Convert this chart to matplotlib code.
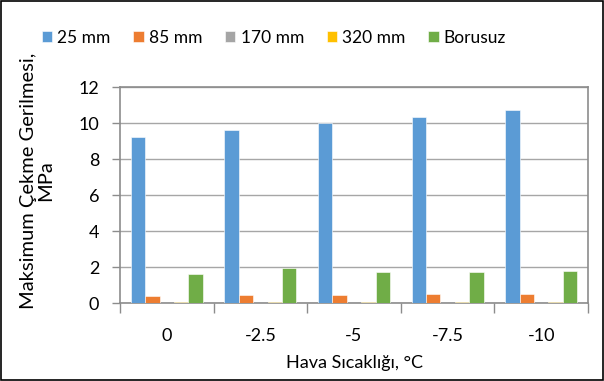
import numpy as np
import matplotlib
matplotlib.use('Agg')
import matplotlib.pyplot as plt
from matplotlib.patches import Rectangle

# data
categories = ['0', '-2.5', '-5', '-7.5', '-10']
series_names = ['25 mm', '85 mm', '170 mm', '320 mm', 'Borusuz']
vals_25 = [9.2, 9.6, 10.0, 10.35, 10.75]
vals_85 = [0.40, 0.43, 0.43, 0.50, 0.52]
vals_170 = [0.02, 0.02, 0.02, 0.02, 0.02]
vals_320 = [0.03, 0.03, 0.03, 0.03, 0.03]
vals_bor = [1.63, 1.97, 1.71, 1.74, 1.78]

COLORS = ['#5B9BD5', '#ED7D31', '#A5A5A5', '#FFC000', '#70AD47']
FS = 13

plt.rcParams['font.family'] = ['Lato', 'DejaVu Sans']


def main():
	fig = plt.figure(figsize=(6.04, 3.81), dpi=100)
	ax = fig.add_axes([120 / 604, 78 / 381, 468 / 604, 216 / 381])

	x = np.arange(len(categories))
	w = 1 / 6.5
	all_vals = [vals_25, vals_85, vals_170, vals_320, vals_bor]
	for i, (vals, name) in enumerate(zip(all_vals, series_names)):
		ax.bar(x + (i - 2) * w, vals, width=w, color=COLORS[i], label=name,
			edgecolor='white', linewidth=0.4, zorder=3)

	ax.set_xlim(-0.5, len(categories) - 0.5)
	ax.set_ylim(0, 12)
	ax.set_yticks(range(0, 13, 2))
	ax.yaxis.grid(True, color='#A6A6A6', linewidth=1.0, zorder=0)
	ax.set_xticks(x)
	ax.set_xticklabels(categories)
	ax.set_xticks(np.arange(-0.5, len(categories), 1), minor=True)
	ax.tick_params(axis='x', which='major', length=0, pad=18, labelsize=FS)
	ax.tick_params(axis='x', which='minor', length=7, width=1, color='#8C8C8C')
	ax.tick_params(axis='y', length=6, width=1, color='#8C8C8C', labelsize=FS, pad=9)

	for s in ax.spines.values():
		s.set_color('#8C8C8C')
		s.set_linewidth(1.2)

	ax.set_xlabel('Hava Sıcaklığı, °C', fontsize=FS, labelpad=8)
	ax.set_ylabel('Maksimum Çekme Gerilmesi,\nMPa', fontsize=14.5,
		linespacing=1.0, multialignment='center')
	ax.yaxis.set_label_coords((54 - 120) / 468, (303 - 181) / 216)

	ax.legend(loc='center', bbox_to_anchor=(274 / 604, 1 - 38 / 381),
		bbox_transform=fig.transFigure, ncol=5, frameon=False, fontsize=12.5,
		handlelength=0.6, handleheight=0.6, handletextpad=0.3, columnspacing=1.3)

	fig.patches.append(Rectangle((0.001, 0.002), 0.997, 0.995, transform=fig.transFigure,
		fill=False, edgecolor='black', linewidth=1.2))

	fig.savefig('out.png', dpi=100)
	plt.close()


if __name__ == '__main__':
	main()
